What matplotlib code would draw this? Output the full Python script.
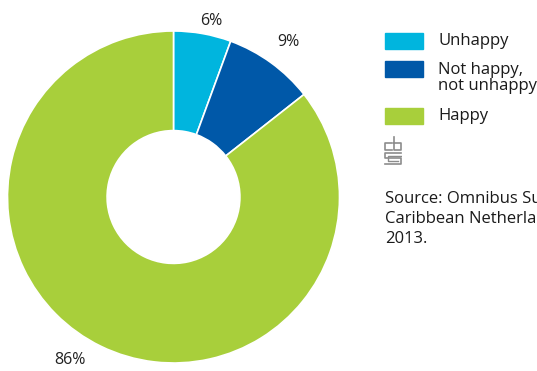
import numpy as np
import matplotlib
matplotlib.use('Agg')
import matplotlib.pyplot as plt
from matplotlib.patches import Rectangle

# data
categories = ['Unhappy', 'Not happy,\nnot unhappy', 'Happy']
shares = [5.6, 8.8, 85.6]
labels = ['6%', '9%', '86%']
colors = ['#00b5de', '#0058a8', '#a8cf3b']
source = 'Source: Omnibus Survey\nCaribbean Netherlands\n2013.'

plt.rcParams['font.family'] = ['Open Sans', 'DejaVu Sans']

W, H = 537, 371
fig = plt.figure(figsize=(W / 100, H / 100), dpi=100)

cx, cy, r = 173.5, 197, 166
ax = fig.add_axes([(cx - r) / W, (H - cy - r) / H, 2 * r / W, 2 * r / H])
wedges, _ = ax.pie(shares, colors=colors, startangle=90, counterclock=False,
                   radius=1.0, wedgeprops=dict(width=0.6, edgecolor='white', linewidth=1.2))
ax.set_xlim(-1, 1)
ax.set_ylim(-1, 1)
ax.set_aspect('equal')
ax.axis('off')

# label positions: (angle shift in deg, radius)
lab_pos = [(-2, 1.085), (-0.6, 1.16), (-6.5, 1.165)]
for w, lab, (da, rr) in zip(wedges, labels, lab_pos):
    ang = np.deg2rad((w.theta1 + w.theta2) / 2 + da)
    ax.text(rr * np.cos(ang), rr * np.sin(ang), lab, ha='center', va='center',
            fontsize=11.5, color='#222222', clip_on=False)

# legend
ys = [41, 69, 116]
for y, c, t in zip(ys, colors, categories):
    fig.patches.append(Rectangle((385 / W, (H - y - 7.5) / H), 38 / W, 15 / H,
                                 transform=fig.transFigure, color=c))
    ty = y if '\n' not in t else y + 9
    fig.text(438 / W, (H - ty) / H, t, fontsize=12, color='#1a1a1a',
             va='center', ha='left', linespacing=0.95)

# small cbs logo
lx = fig.add_axes([384 / W, (H - 165) / H, 18 / W, 29 / H])
lx.set_xlim(0, 18)
lx.set_ylim(0, 29)
lx.axis('off')
g = '#8c8c8c'
lx.plot([8, 1, 1, 8], [22, 22, 15, 15], color=g, lw=1.2)
lx.plot([10, 10, 17, 17, 10], [28, 15, 15, 22, 22], color=g, lw=1.2)
lx.plot([17, 1, 1, 17, 17, 1], [12, 12, 7, 7, 1, 1], color=g, lw=1.2)
lx.plot([17, 4, 4, 14], [9.5, 9.5, 4, 4], color=g, lw=1)

fig.text(385 / W, (H - 219) / H, source, fontsize=12, color='#1a1a1a',
         va='center', ha='left', linespacing=1.3)

fig.savefig('out.png', dpi=100)
